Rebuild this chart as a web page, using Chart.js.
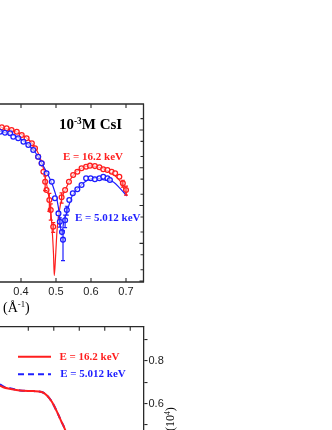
<!DOCTYPE html>
<html><head><meta charset="utf-8">
<script src="https://cdn.jsdelivr.net/npm/chart.js@4.4.1/dist/chart.umd.min.js"></script>
<style>
html,body{margin:0;padding:0;background:#fff;width:332px;height:430px;overflow:hidden;position:relative}
.c{position:absolute;left:0}
#wrapTop{top:0;width:332px;height:300px}
#wrapBot{top:300px;width:332px;height:200px}
.t{position:absolute;white-space:nowrap;font-family:'Liberation Serif','Times New Roman',serif;line-height:1}
.t sup{font-size:0.62em;vertical-align:baseline;position:relative;top:-0.55em;line-height:0}
</style></head><body>
<div class="c" id="wrapTop"><canvas id="top" width="332" height="300"></canvas></div>
<div class="c" id="wrapBot"><canvas id="bot" width="332" height="200"></canvas></div>
<div class="t" style="left:59px;top:117px;font-size:15px;font-weight:bold;color:#000">10<sup>-3</sup>M CsI</div>
<div class="t" style="left:63px;top:151px;font-size:11px;font-weight:bold;color:#ff1e1e">E = 16.2 keV</div>
<div class="t" style="left:75px;top:211.5px;font-size:11px;font-weight:bold;color:#1e1eff">E = 5.012 keV</div>
<div class="t" style="left:3px;top:301px;font-size:14px;color:#000">(Å<sup>-1</sup>)</div>
<div class="t" style="left:164px;top:431px;font-size:12px;color:#000;transform:rotate(-90deg);transform-origin:0 0">(10<sup>4</sup>)</div>
<script>
// ---------- top panel data (q in 1/Å, intensity, log axis) ----------
const redQ = [0.345,0.359,0.373,0.388,0.402,0.416,0.431,0.440,0.449,0.459,0.464,0.469,0.473,0.481,0.485,0.492,
              0.516,0.526,0.537,0.549,0.561,0.573,0.586,0.597,0.611,0.624,0.635,0.647,0.659,0.669,0.681,0.691,0.700];
const redI = [11800,11100,10000,9030,7390,6040,4450,3280,1970,1310,788,429,258,140,76,27.5,
              166,258,429,645,788,970,1070,1140,1110,1030,912,874,788,715,581,388,258];
const redErr = [0,0,0,0,0,0,0,0,0,0,0,180,0,70,35,8,
                50,0,0,0,0,0,0,0,0,0,0,0,0,0,0,80,70];
const blueQ = [0.340,0.354,0.369,0.378,0.392,0.407,0.421,0.435,0.449,0.459,0.473,0.488,0.497,0.507,0.511,0.517,0.520,
               0.526,0.531,0.538,0.548,0.561,0.573,0.586,0.599,0.611,0.624,0.635,0.647,0.654];
const blueI = [9030,8500,8190,6650,6040,4910,4010,2960,1970,1310,715,429,156,62,37,20,12.5,
               41,76,140,211,270,350,527,527,496,527,581,527,475];
const blueErr = [0,0,0,0,0,0,0,0,0,0,0,0,0,0,10,0,9,
                 15,20,0,0,0,0,0,0,0,0,0,0,0];
const redFitQ = [0.340,0.400,0.440,0.460,0.471,0.480,0.486,0.490,0.493,0.495,0.499,0.503,0.509,0.517,0.529,0.540,0.557,0.574,0.597,0.620,0.643,0.666,0.683,0.702];
const redFitI = [12200,7850,3550,1340,475,159,56,16.6,4.9,1.4,4.9,22.5,67,159,292,475,774,989,1120,1050,874,645,447,190];
const blueFitQ = [0.340,0.400,0.440,0.470,0.490,0.503,0.510,0.516,0.522,0.531,0.546,0.569,0.591,0.614,0.637,0.664,0.683,0.702];
const blueFitI = [9420,5780,2620,874,350,140,56,16.6,36.7,67,179,330,475,537,475,421,286,179];
const topXTicks = [0.4,0.5,0.6,0.7];
const topYMajor = [1,10,100,1000,10000];
const topYMinor = [2,5,20,50,200,500,2000,5000,20000];

// ---------- bottom panel data ----------
const bottomX = [-0.11,0.02,0.282,0.675,1.196,1.525,1.722,1.918,2.114,2.310,2.373,2.557];
const bottomRed = [0.685,0.677,0.670,0.662,0.659,0.655,0.640,0.610,0.565,0.513,0.498,0.444];
const bottomBlue = [0.691,0.681,0.672,0.662,0.659,0.655,0.640,0.610,0.565,0.513,0.498,0.444];
const bottomXTicks = [1,2,3,4,5];
const bottomYTicks = [0.3,0.4,0.5,0.6,0.7,0.8,0.9];
const bottomYLabelled = [0.4,0.6,0.8];
const seriesNames = ['E = 16.2 keV','E = 5.012 keV'];

const RED = '#ff1e1e', BLUE = '#1e1eff', AX = '#2a2a2a';
const pts = (xs, ys) => xs.map((x, i) => ({x, y: ys[i]}));

function makeFrame(cfg) {
  return {
    id: 'frame',
    afterDatasetsDraw(chart) {
      const {ctx, chartArea: a} = chart;
      ctx.save();
      ctx.strokeStyle = AX; ctx.lineWidth = 1.3;
      ctx.beginPath();
      if (cfg.lines.includes('top')) { ctx.moveTo(a.left, a.top); ctx.lineTo(a.right + 0.6, a.top); }
      if (cfg.lines.includes('bottom')) { ctx.moveTo(a.left, a.bottom); ctx.lineTo(a.right + 0.6, a.bottom); }
      if (cfg.lines.includes('right')) { ctx.moveTo(a.right, a.top); ctx.lineTo(a.right, a.bottom); }
      ctx.stroke();
      for (const t of cfg.ticks) {
        const sc = chart.scales[t.scale];
        ctx.lineWidth = 1.1;
        ctx.beginPath();
        for (const v of t.values) {
          const p = sc.getPixelForValue(v);
          if (t.side === 'top' || t.side === 'bottom') {
            if (p < a.left || p > a.right) continue;
            if (t.side === 'top') { ctx.moveTo(p, a.top); ctx.lineTo(p, a.top + t.len); }
            else { ctx.moveTo(p, a.bottom); ctx.lineTo(p, a.bottom - t.len); }
          } else {
            if (p < a.top + 1 || p > a.bottom) continue;
            ctx.moveTo(a.right, p); ctx.lineTo(a.right - t.len, p);
          }
        }
        ctx.stroke();
      }
      ctx.restore();
    }
  };
}

function makeErrBars(list) {
  return {
    id: 'errbars',
    afterDatasetsDraw(chart) {
      const {ctx, scales: {x, y}} = chart;
      ctx.save();
      ctx.beginPath();
      const a = chart.chartArea;
      ctx.rect(a.left, a.top, a.right - a.left, a.bottom - a.top);
      ctx.clip();
      for (const e of list) {
        ctx.strokeStyle = e.color; ctx.lineWidth = 1.2;
        ctx.beginPath();
        e.q.forEach((q, i) => {
          const err = e.err[i];
          if (!err) return;
          const px = x.getPixelForValue(q);
          const lo = Math.max(e.v[i] - err, y.min);
          const y1 = y.getPixelForValue(e.v[i] + err), y2 = y.getPixelForValue(lo);
          ctx.moveTo(px, y1); ctx.lineTo(px, y2);
          ctx.moveTo(px - 2, y1); ctx.lineTo(px + 2, y1);
          ctx.moveTo(px - 2, y2); ctx.lineTo(px + 2, y2);
        });
        ctx.stroke();
      }
      ctx.restore();
    }
  };
}

const tickFont = {family: "'Liberation Sans', Arial, sans-serif", size: 11};

new Chart(document.getElementById('top'), {
  type: 'scatter',
  data: {datasets: [
    {label: seriesNames[1], data: pts(blueQ, blueI), showLine: false, pointStyle: 'circle', pointRadius: 2.4,
     borderColor: BLUE, backgroundColor: 'rgba(255,255,255,0.6)', borderWidth: 1.3},
    {label: seriesNames[1] + ' fit', data: pts(blueFitQ, blueFitI), showLine: true, pointRadius: 0,
     borderColor: BLUE, borderWidth: 1.2, cubicInterpolationMode: 'monotone'},
    {label: seriesNames[0], data: pts(redQ, redI), showLine: false, pointStyle: 'circle', pointRadius: 2.4,
     borderColor: RED, backgroundColor: 'rgba(255,255,255,0.6)', borderWidth: 1.3},
    {label: seriesNames[0] + ' fit', data: pts(redFitQ, redFitI), showLine: true, pointRadius: 0,
     borderColor: RED, borderWidth: 1.2, cubicInterpolationMode: 'monotone'}
  ]},
  options: {
    responsive: false, animation: false,
    layout: {autoPadding: false, padding: {top: 104, right: 188.5, left: 0, bottom: 0}},
    plugins: {legend: {display: false}, tooltip: {enabled: false}},
    scales: {
      x: {type: 'linear', min: 0.34, max: 0.75,
          afterBuildTicks: s => { s.ticks = topXTicks.map(v => ({value: v})); },
          afterFit: s => { s.height = 18; s.paddingLeft = 0; s.paddingRight = 0; },
          grid: {display: false, drawTicks: false}, border: {display: false},
          ticks: {padding: 3, font: tickFont, color: '#222', maxRotation: 0, autoSkip: false,
                  callback: v => Number(v).toFixed(1)}},
      y: {type: 'logarithmic', min: 0.946, max: 48900, display: false}
    }
  },
  plugins: [
    makeErrBars([
      {q: blueQ, v: blueI, err: blueErr, color: BLUE},
      {q: redQ, v: redI, err: redErr, color: RED}
    ]),
    makeFrame({lines: ['top', 'right', 'bottom'], ticks: [
      {scale: 'x', side: 'top', values: topXTicks, len: 4},
      {scale: 'x', side: 'bottom', values: topXTicks, len: 4},
      {scale: 'y', side: 'right', values: topYMajor, len: 4},
      {scale: 'y', side: 'right', values: topYMinor, len: 3}
    ]})
  ]
});

const legendPlugin = {
  id: 'legendLines',
  afterDatasetsDraw(chart) {
    const {ctx} = chart;
    ctx.save();
    const rows = [56.7, 74.3];
    chart.data.datasets.forEach((ds, i) => {
      const yy = rows[i];
      ctx.strokeStyle = ds.borderColor; ctx.lineWidth = 2;
      ctx.setLineDash(ds.borderDash || []);
      ctx.beginPath(); ctx.moveTo(18, yy); ctx.lineTo(51, yy); ctx.stroke();
      ctx.setLineDash([]);
      ctx.fillStyle = ds.borderColor;
      ctx.font = "bold 11px 'Liberation Serif', 'Times New Roman', serif";
      ctx.textBaseline = 'middle'; ctx.textAlign = 'left';
      ctx.fillText(ds.label, 59.5 + i * 0.7, yy);
    });
    ctx.restore();
  }
};

new Chart(document.getElementById('bot'), {
  type: 'scatter',
  data: {datasets: [
    {label: seriesNames[0], data: pts(bottomX, bottomRed), showLine: true, pointRadius: 0,
     borderColor: RED, borderWidth: 2, cubicInterpolationMode: 'monotone'},
    {label: seriesNames[1], data: pts(bottomX, bottomBlue), showLine: true, pointRadius: 0,
     borderColor: BLUE, borderWidth: 2, borderDash: [6, 4], cubicInterpolationMode: 'monotone'}
  ]},
  options: {
    responsive: false, animation: false,
    layout: {autoPadding: false, padding: {top: 26.7, right: 0, left: 0, bottom: 0}},
    plugins: {legend: {display: false}, tooltip: {enabled: false}},
    scales: {
      x: {type: 'linear', min: -0.11, max: 5.52, display: false},
      y: {type: 'linear', position: 'right', min: 0.184, max: 0.961,
          afterBuildTicks: s => { s.ticks = bottomYTicks.map(v => ({value: v})); },
          afterFit: s => { s.width = 188.5; },
          grid: {drawOnChartArea: false, drawTicks: true, tickLength: 4, color: AX, lineWidth: 1.1},
          border: {display: true, color: AX, width: 1.3},
          ticks: {padding: 1, font: tickFont, color: '#222', autoSkip: false,
                  callback: v => bottomYLabelled.some(l => Math.abs(l - v) < 1e-6) ? Number(v).toFixed(1) : ''}}
    }
  },
  plugins: [
    legendPlugin,
    makeFrame({lines: ['top'], ticks: [
      {scale: 'x', side: 'top', values: bottomXTicks, len: 4}
    ]})
  ]
});
</script>
</body></html>
